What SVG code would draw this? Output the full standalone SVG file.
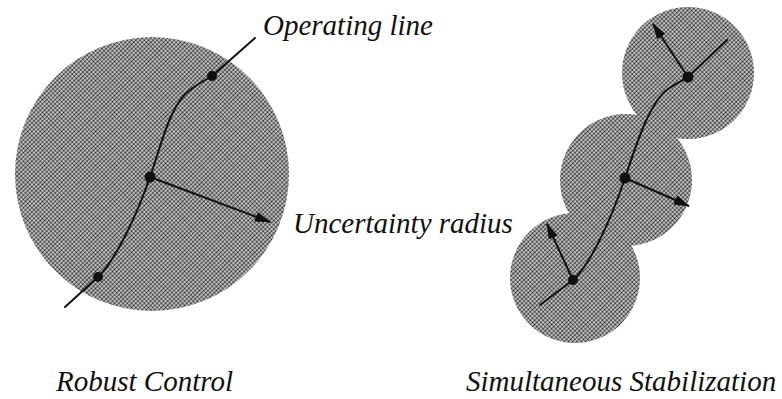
<svg xmlns="http://www.w3.org/2000/svg" width="782" height="399" viewBox="0 0 782 399">
<style>
.region{fill:url(#halftone);}
.line{fill:none;stroke:#111;stroke-width:2;stroke-linecap:round;stroke-linejoin:round;}
.arrow{fill:none;stroke:#111;stroke-width:2;marker-end:url(#head);}
.dot{fill:#111;}
text{font-style:italic;font-size:29px;fill:#111;}
</style>
<defs>
<pattern id="halftone" width="3" height="3" patternUnits="userSpaceOnUse" patternTransform="rotate(45)">
<rect width="3" height="3" fill="#e2e2e2"/>
<circle cx="1.5" cy="1.5" r="1.15" fill="#222"/>
</pattern>
<marker id="head" markerWidth="16" markerHeight="10" refX="15" refY="5" orient="auto" markerUnits="userSpaceOnUse">
<path d="M0,0 L16,5 L0,10 Z" fill="#111"/>
</marker>
</defs>
<g id="robust-region">
<circle class="region" cx="152" cy="174" r="137"/>
</g>
<g id="sim-region-top">
<circle class="region" cx="688" cy="73" r="66"/>
</g>
<g id="sim-region-middle">
<circle class="region" cx="626" cy="180" r="66"/>
</g>
<g id="sim-region-bottom">
<circle class="region" cx="575" cy="278" r="65"/>
</g>
<g id="connectors">
<path class="line" d="M65,307 L98,277 C116,260 138,212 150,177 C161,146 170,104 190,90 C198,84 205,80 212,76 L255,38"/>
<line class="arrow" x1="150" y1="177" x2="270" y2="222"/>
<path class="line" d="M540,305 L573,280 C590,265 611,220 625,178 C637,142 650,102 668,89 C677,83 683,80 688,77 L727,40"/>
<line class="arrow" x1="688" y1="77" x2="653" y2="24"/>
<line class="arrow" x1="625" y1="178" x2="689" y2="206"/>
<line class="arrow" x1="573" y1="280" x2="547" y2="224"/>
</g>
<g id="points">
<circle class="dot" cx="98" cy="277" r="5"/>
<circle class="dot" cx="150" cy="177" r="5.5"/>
<circle class="dot" cx="212" cy="76" r="5"/>
<circle class="dot" cx="573" cy="280" r="5"/>
<circle class="dot" cx="625" cy="178" r="5.5"/>
<circle class="dot" cx="688" cy="77" r="5.5"/>
</g>
<g id="label-operating-line"><text font-family="'Liberation Serif', 'DejaVu Serif', serif" x="263" y="35">Operating line</text></g>
<g id="label-uncertainty-radius"><text font-family="'Liberation Serif', 'DejaVu Serif', serif" x="293" y="233">Uncertainty radius</text></g>
<g id="label-robust-control"><text font-family="'Liberation Serif', 'DejaVu Serif', serif" x="56" y="391">Robust Control</text></g>
<g id="label-simultaneous"><text font-family="'Liberation Serif', 'DejaVu Serif', serif" x="466" y="391">Simultaneous Stabilization</text></g>
</svg>
